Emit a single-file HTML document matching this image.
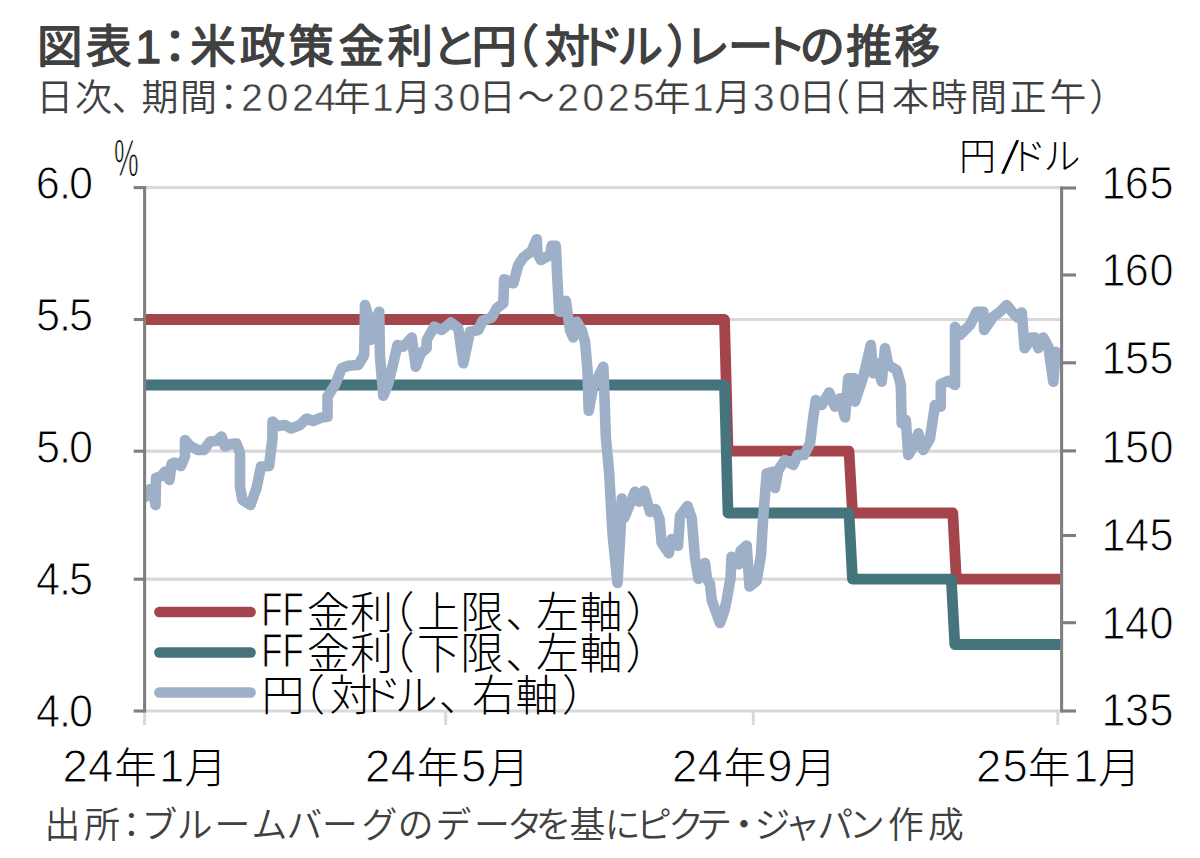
<!DOCTYPE html>
<html lang="ja">
<head>
<meta charset="utf-8">
<title>図表1：米政策金利と円（対ドル）レートの推移</title>
<style>
html,body{margin:0;padding:0;background:#fff;}
body{width:1200px;height:858px;overflow:hidden;font-family:'Liberation Sans','Noto Sans CJK JP',sans-serif}
svg text{white-space:pre;}
</style>
</head>
<body>
<svg width="1200" height="858" viewBox="0 0 1200 858" style="display:block;font-family:'Liberation Sans','Noto Sans CJK JP',sans-serif">
<rect width="1200" height="858" fill="#fff"/>
<defs><clipPath id="plot"><rect x="144.6" y="150" width="917.4" height="600"/></clipPath></defs>
<line x1="144.6" x2="1062.0" y1="187.6" y2="187.6" stroke="#D9D9D9" stroke-width="3.2"/>
<line x1="144.6" x2="1062.0" y1="319.5" y2="319.5" stroke="#D9D9D9" stroke-width="3.2"/>
<line x1="144.6" x2="1062.0" y1="451.2" y2="451.2" stroke="#D9D9D9" stroke-width="3.2"/>
<line x1="144.6" x2="1062.0" y1="579.2" y2="579.2" stroke="#D9D9D9" stroke-width="3.2"/>
<line x1="143.29999999999998" x2="1062.0" y1="711.0" y2="711.0" stroke="#D9D9D9" stroke-width="3"/>
<line x1="144.6" x2="144.6" y1="711.0" y2="725" stroke="#D9D9D9" stroke-width="3"/>
<line x1="445.7" x2="445.7" y1="711.0" y2="725" stroke="#D9D9D9" stroke-width="3"/>
<line x1="753.3" x2="753.3" y1="711.0" y2="725" stroke="#D9D9D9" stroke-width="3"/>
<line x1="1057.8" x2="1057.8" y1="711.0" y2="725" stroke="#D9D9D9" stroke-width="3"/>
<path d="M144.6 319.5 L724.5 319.5 L728.0 451.2 L849.0 451.2 L852.5 513.0 L952.8 513.0 L956.3 579.2 L1062.0 579.2" fill="none" stroke="#A4444B" stroke-width="10.8" stroke-linejoin="round"/>
<path d="M144.6 385.0 L724.5 385.0 L728.0 513.0 L849.0 513.0 L852.5 579.2 L951.3 579.2 L954.8 644.5 L1062.0 644.5" fill="none" stroke="#45747C" stroke-width="10.8" stroke-linejoin="round"/>
<path d="M145.5 497.0 L150.0 489.0 L153.5 494.0 L155.5 505.0 L156.0 478.0 L161.5 476.0 L165.0 471.5 L169.5 480.0 L171.5 464.0 L174.5 462.5 L181.0 466.0 L185.0 456.5 L185.0 440.0 L190.0 446.0 L198.0 450.0 L204.0 450.0 L210.0 441.5 L216.5 441.0 L221.5 436.5 L225.0 446.5 L231.0 444.0 L236.5 443.5 L240.0 453.0 L240.0 487.0 L242.5 500.0 L250.5 505.0 L256.5 488.0 L261.0 466.5 L269.0 466.0 L272.5 438.0 L272.5 421.5 L278.0 426.0 L285.0 425.0 L291.0 428.5 L300.0 425.0 L306.5 418.5 L313.0 421.0 L321.5 417.5 L327.5 416.7 L327.5 396.7 L335.0 385.0 L341.7 368.3 L348.3 365.8 L358.3 365.0 L364.2 355.0 L365.0 305.0 L369.0 318.0 L370.3 340.0 L379.2 311.7 L380.0 356.7 L383.3 395.8 L388.3 383.3 L393.3 363.3 L397.5 345.0 L403.3 346.7 L411.7 337.5 L415.8 366.7 L420.8 353.3 L426.7 348.3 L426.7 340.0 L434.2 326.7 L441.7 330.0 L450.8 322.5 L458.3 328.3 L463.3 363.3 L470.0 331.7 L478.3 330.0 L482.5 320.8 L491.7 317.5 L496.7 308.3 L503.3 303.3 L504.2 279.2 L513.3 283.3 L518.3 265.0 L523.3 257.5 L531.7 250.8 L536.7 239.2 L537.5 253.3 L540.8 260.0 L550.0 255.0 L551.7 245.8 L555.8 245.8 L557.5 281.7 L559.2 311.7 L563.3 311.7 L565.8 300.8 L568.3 318.3 L570.0 330.0 L573.3 337.5 L576.7 321.7 L581.7 330.0 L585.0 341.7 L587.5 370.0 L588.7 410.8 L593.3 386.7 L603.3 366.7 L604.7 403.3 L605.8 436.7 L609.2 473.3 L612.5 533.3 L617.5 583.0 L621.0 522.0 L621.7 498.5 L624.2 518.0 L635.0 491.7 L639.2 501.7 L644.2 490.8 L650.0 512.0 L655.5 509.0 L659.5 519.0 L661.7 543.0 L668.8 553.3 L671.7 539.0 L678.0 545.8 L680.0 516.0 L687.5 506.0 L691.7 518.3 L695.0 557.5 L698.5 579.0 L705.0 563.0 L707.0 579.0 L710.0 584.0 L711.7 600.0 L716.0 612.0 L720.0 623.0 L724.0 612.0 L726.7 600.0 L730.5 578.0 L731.5 556.7 L738.8 564.5 L740.5 551.0 L746.7 545.5 L749.5 586.5 L756.5 581.0 L761.0 555.0 L762.8 523.0 L766.7 473.3 L773.3 471.7 L775.0 488.0 L778.3 470.0 L785.0 460.0 L793.3 465.0 L797.5 455.0 L804.2 455.0 L810.0 443.3 L813.3 416.7 L815.8 400.0 L821.7 405.0 L829.2 392.5 L835.0 406.7 L840.0 398.3 L845.0 417.5 L848.3 378.3 L854.2 378.3 L855.0 401.7 L863.3 376.7 L870.8 345.0 L873.3 373.3 L876.7 363.3 L881.7 381.7 L885.0 348.3 L888.3 365.0 L896.7 370.0 L900.8 385.0 L901.7 423.3 L905.8 420.0 L908.3 455.0 L913.3 446.7 L918.3 433.3 L923.3 450.0 L930.0 438.3 L935.0 405.0 L940.8 406.7 L940.8 384.2 L948.3 380.8 L955.0 385.0 L955.0 326.7 L960.0 335.0 L970.0 325.0 L976.7 311.7 L983.3 311.7 L984.2 330.0 L993.3 316.7 L1000.0 311.7 L1006.7 305.0 L1013.3 313.3 L1017.5 317.5 L1021.7 312.5 L1024.7 348.3 L1031.7 337.5 L1035.0 337.5 L1038.3 348.3 L1043.3 337.5 L1048.3 346.7 L1053.3 381.7 L1055.8 351.7 L1060.0 358.3" fill="none" stroke="#9DB0C7" stroke-width="10.6" stroke-linejoin="round" stroke-linecap="round" clip-path="url(#plot)"/>
<line x1="144.6" x2="144.6" y1="186.1" y2="712.6" stroke="#7F7F7F" stroke-width="3.1"/>
<line x1="133.7" x2="144.6" y1="187.6" y2="187.6" stroke="#7F7F7F" stroke-width="3.1"/>
<line x1="133.7" x2="144.6" y1="319.5" y2="319.5" stroke="#7F7F7F" stroke-width="3.1"/>
<line x1="133.7" x2="144.6" y1="451.2" y2="451.2" stroke="#7F7F7F" stroke-width="3.1"/>
<line x1="133.7" x2="144.6" y1="579.2" y2="579.2" stroke="#7F7F7F" stroke-width="3.1"/>
<line x1="133.7" x2="144.6" y1="711.0" y2="711.0" stroke="#7F7F7F" stroke-width="3.1"/>
<line x1="1061.6" x2="1061.6" y1="186.5" y2="712.6" stroke="#7F7F7F" stroke-width="3.1"/>
<line x1="1061.6" x2="1076" y1="188" y2="188" stroke="#7F7F7F" stroke-width="3.1"/>
<line x1="1061.6" x2="1076" y1="275" y2="275" stroke="#7F7F7F" stroke-width="3.1"/>
<line x1="1061.6" x2="1076" y1="362.8" y2="362.8" stroke="#7F7F7F" stroke-width="3.1"/>
<line x1="1061.6" x2="1076" y1="450.9" y2="450.9" stroke="#7F7F7F" stroke-width="3.1"/>
<line x1="1061.6" x2="1076" y1="535.5" y2="535.5" stroke="#7F7F7F" stroke-width="3.1"/>
<line x1="1061.6" x2="1076" y1="622.7" y2="622.7" stroke="#7F7F7F" stroke-width="3.1"/>
<line x1="1061.6" x2="1076" y1="711" y2="711" stroke="#7F7F7F" stroke-width="3.1"/>
<line x1="159.3" x2="250.7" y1="612" y2="612" stroke="#A4444B" stroke-width="10.3" stroke-linecap="round"/>
<line x1="159.3" x2="250.7" y1="652.5" y2="652.5" stroke="#45747C" stroke-width="10.3" stroke-linecap="round"/>
<line x1="159.3" x2="250.7" y1="692.5" y2="692.5" stroke="#9DB0C7" stroke-width="10.3" stroke-linecap="round"/>
<text fill="#404040" font-weight="400" stroke="#404040" stroke-width="1.4" stroke-linejoin="round"><tspan x="37.12 86.12" y="63.4" font-size="45.5">図表</tspan><tspan x="135.47" y="63.0" font-size="46">1</tspan><tspan x="152.25 190.22 239.75 288.50 338.38 387.38 431.85 471.52 493.62 544.38 578.50 617.48 666.27 684.25 727.85 761.25 799.38 846.25 894.50" y="63.4" font-size="45.5">：米政策金利と円（対ドル）レートの推移</tspan></text>
<text fill="#404040" font-weight="350"><tspan x="36.25 75.12 111.50 141.53 180.12 210.25" y="111.3" font-size="37">日次、期間：</tspan><tspan x="241.15 266.75 292.25 314.55" y="111.0" font-size="38.7" stroke="#fff" stroke-width="0.4">2024</tspan><tspan x="333.50" y="111.3" font-size="37">年</tspan><tspan x="372.10" y="111.0" font-size="38.7" stroke="#fff" stroke-width="0.4">1</tspan><tspan x="394.25" y="111.3" font-size="37">月</tspan><tspan x="433.12 458.65" y="111.0" font-size="38.7" stroke="#fff" stroke-width="0.4">30</tspan><tspan x="478.75 517.50" y="111.3" font-size="37">日～</tspan><tspan x="557.25 582.45 608.00 632.75" y="111.0" font-size="38.7" stroke="#fff" stroke-width="0.4">2025</tspan><tspan x="653.50" y="111.3" font-size="37">年</tspan><tspan x="692.10" y="111.0" font-size="38.7" stroke="#fff" stroke-width="0.4">1</tspan><tspan x="714.25" y="111.3" font-size="37">月</tspan><tspan x="753.12 778.65" y="111.0" font-size="38.7" stroke="#fff" stroke-width="0.4">30</tspan><tspan x="798.75 812.88 852.25 892.10 930.62 970.12 1009.50 1049.50 1089.22" y="111.3" font-size="37">日（日本時間正午）</tspan></text>
<text fill="#404040" font-weight="350"><tspan x="44.50 84.25 113.38 141.38 176.75 214.62 251.40 286.62 322.12 361.62 397.73 435.40 474.12 507.02 535.50 569.50 604.75 635.88 668.23 696.27 725.88 754.50 784.38 817.23 848.88 888.12 928.12" y="838" font-size="35.8">出所：ブルームバーグのデータを基にピクテ・ジャパン作成</tspan></text>
<text fill="#000" font-weight="300"><tspan x="62.38 88.10" y="781.5" font-size="45.5" stroke="#fff" stroke-width="1.0">24</tspan><tspan x="114.22" y="783" font-size="42.5">年</tspan><tspan x="158.88" y="781.5" font-size="45.5" stroke="#fff" stroke-width="1.0">1</tspan><tspan x="184.50" y="783" font-size="42.5">月</tspan></text>
<text fill="#000" font-weight="300"><tspan x="364.88 390.60" y="781.5" font-size="45.5" stroke="#fff" stroke-width="1.0">24</tspan><tspan x="416.73" y="783" font-size="42.5">年</tspan><tspan x="461.12" y="781.5" font-size="45.5" stroke="#fff" stroke-width="1.0">5</tspan><tspan x="487.00" y="783" font-size="42.5">月</tspan></text>
<text fill="#000" font-weight="300"><tspan x="671.88 697.60" y="781.5" font-size="45.5" stroke="#fff" stroke-width="1.0">24</tspan><tspan x="723.73" y="783" font-size="42.5">年</tspan><tspan x="767.25" y="781.5" font-size="45.5" stroke="#fff" stroke-width="1.0">9</tspan><tspan x="794.00" y="783" font-size="42.5">月</tspan></text>
<text fill="#000" font-weight="300"><tspan x="976.12 1002.38" y="781.5" font-size="45.5" stroke="#fff" stroke-width="1.0">25</tspan><tspan x="1027.97" y="783" font-size="42.5">年</tspan><tspan x="1072.88" y="781.5" font-size="45.5" stroke="#fff" stroke-width="1.0">1</tspan><tspan x="1098.25" y="783" font-size="42.5">月</tspan></text>
<text fill="#000" font-weight="300"><tspan x="261.25" y="625.8" font-size="48" textLength="42.51" lengthAdjust="spacingAndGlyphs" stroke="#fff" stroke-width="1.0">FF</tspan><tspan x="306.80 350.15 371.62 416.88 460.62 505.25 536.00 579.62 625.38" y="628" font-size="43">金利（上限、左軸）</tspan></text>
<text fill="#000" font-weight="300"><tspan x="261.25" y="666.6999999999999" font-size="48" textLength="42.51" lengthAdjust="spacingAndGlyphs" stroke="#fff" stroke-width="1.0">FF</tspan><tspan x="306.80 350.15 371.62 417.00 460.62 505.25 536.00 579.62 625.38" y="668.9" font-size="43">金利（下限、左軸）</tspan></text>
<text fill="#000" font-weight="300"><tspan x="261.38 282.12 329.43 359.60 394.70 438.75 472.00 515.62 561.88" y="710.5" font-size="43">円（対ドル、右軸）</tspan></text>
<text fill="#000" font-weight="300"><tspan x="959.08" y="170.1" font-size="37">円</tspan><tspan x="1000.38" y="173.5" font-size="50" rotate="9" stroke="#fff" stroke-width="1.0">/</tspan><tspan x="1009.50 1043.62" y="170.1" font-size="37">ドル</tspan></text>
<text fill="#000" font-weight="300" transform="scale(0.54 1)"><tspan x="211.34" y="176.2" font-size="51.5" stroke="#fff" stroke-width="1.0">%</tspan></text>
<text fill="#000" font-weight="300" transform="scale(0.92 1)"><tspan x="38.86 64.13 75.00" y="199.2" font-size="47" stroke="#fff" stroke-width="1.0">6.0</tspan></text>
<text fill="#000" font-weight="300" transform="scale(0.92 1)"><tspan x="39.13 64.13 75.00" y="330.7" font-size="47" stroke="#fff" stroke-width="1.0">5.5</tspan></text>
<text fill="#000" font-weight="300" transform="scale(0.92 1)"><tspan x="39.13 64.13 75.00" y="463.5" font-size="47" stroke="#fff" stroke-width="1.0">5.0</tspan></text>
<text fill="#000" font-weight="300" transform="scale(0.92 1)"><tspan x="39.27 64.13 75.00" y="595.0" font-size="47" stroke="#fff" stroke-width="1.0">4.5</tspan></text>
<text fill="#000" font-weight="300" transform="scale(0.92 1)"><tspan x="39.27 64.13 75.00" y="727.0" font-size="47" stroke="#fff" stroke-width="1.0">4.0</tspan></text>
<text fill="#000" font-weight="300" transform="scale(0.92 1)"><tspan x="1197.28 1222.55 1249.46" y="199.5" font-size="47" stroke="#fff" stroke-width="1.0">165</tspan></text>
<text fill="#000" font-weight="300" transform="scale(0.92 1)"><tspan x="1197.28 1222.55 1249.46" y="286.5" font-size="47" stroke="#fff" stroke-width="1.0">160</tspan></text>
<text fill="#000" font-weight="300" transform="scale(0.92 1)"><tspan x="1197.28 1222.83 1249.46" y="374.5" font-size="47" stroke="#fff" stroke-width="1.0">155</tspan></text>
<text fill="#000" font-weight="300" transform="scale(0.92 1)"><tspan x="1197.28 1222.83 1249.46" y="463.1" font-size="47" stroke="#fff" stroke-width="1.0">150</tspan></text>
<text fill="#000" font-weight="300" transform="scale(0.92 1)"><tspan x="1197.28 1222.96 1249.46" y="551.0" font-size="47" stroke="#fff" stroke-width="1.0">145</tspan></text>
<text fill="#000" font-weight="300" transform="scale(0.92 1)"><tspan x="1197.28 1222.96 1249.46" y="638.8" font-size="47" stroke="#fff" stroke-width="1.0">140</tspan></text>
<text fill="#000" font-weight="300" transform="scale(0.92 1)"><tspan x="1197.28 1222.83 1249.46" y="725.8" font-size="47" stroke="#fff" stroke-width="1.0">135</tspan></text>
</svg>
</body>
</html>
